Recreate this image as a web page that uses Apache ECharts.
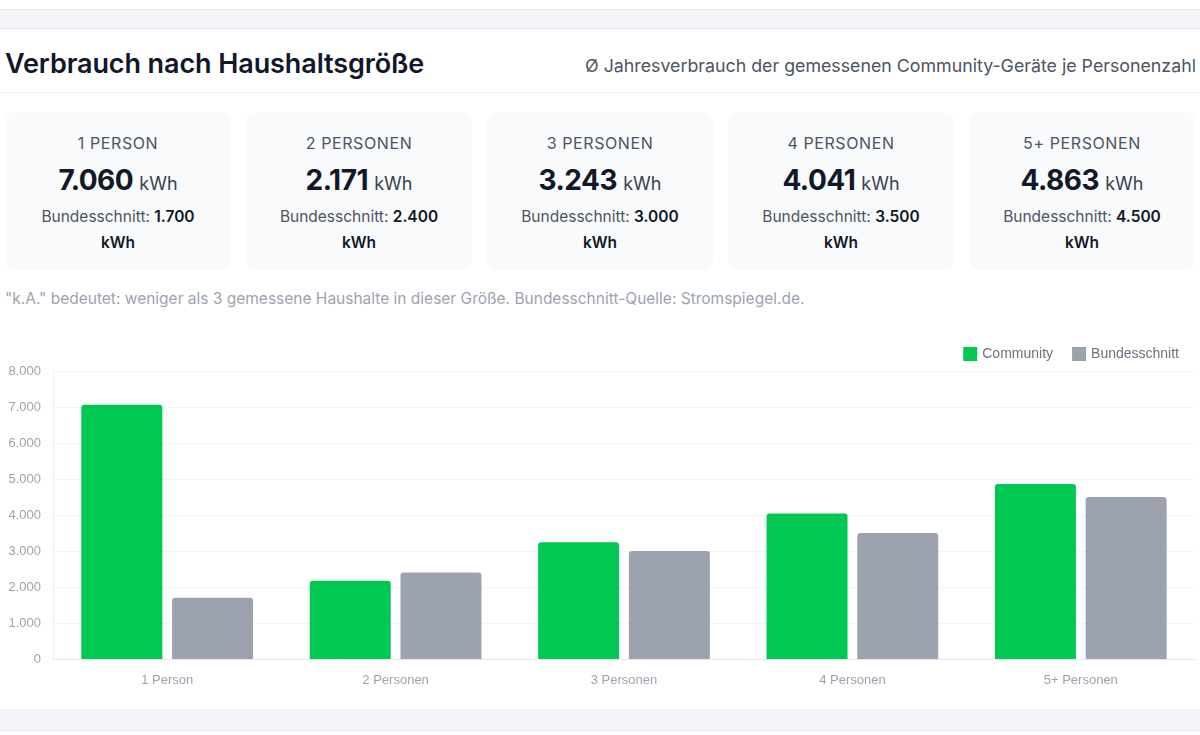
<!DOCTYPE html>
<html lang="de">
<head>
<meta charset="utf-8">
<title>Verbrauch nach Haushaltsgröße</title>
<script src="https://cdn.jsdelivr.net/npm/echarts@6/dist/echarts.min.js"></script>
<style>
  html, body { margin: 0; padding: 0; background: #fff; }
  body { width: 1200px; height: 735px; position: relative; overflow: hidden; font-family: Inter, "Noto Sans", sans-serif; }
  .band { position: absolute; left: 0; width: 1200px; background: #f3f5f8; border-top: 1px solid #e8ebef; border-bottom: 1px solid #e8ebef; }
  .head { position: absolute; left: 0; top: 29px; width: 1200px; height: 63px; border-bottom: 1px solid #eef0f3; }
  .head h1 { position: absolute; left: 5px; top: 18px; margin: 0; font-size: 27px; font-weight: 600; color: #111827; letter-spacing: -0.1px; }
  .head .sub { position: absolute; right: 4px; top: 26px; font-size: 17.8px; color: #4b5563; }
  .cards { position: absolute; left: 5px; top: 112px; display: flex; gap: 15px; }
  .card { width: 226px; height: 158px; background: #f9fafb; border-radius: 10px; text-align: center; box-sizing: border-box; padding-top: 20px; }
  .card .lab { font-size: 16px; color: #4b5563; letter-spacing: 0.6px; line-height: 22px; }
  .card .val { margin-top: 10px; font-size: 28px; font-weight: 700; color: #111827; line-height: 32px; letter-spacing: -0.5px; }
  .card .val span { font-size: 18px; font-weight: 400; color: #374151; letter-spacing: 0; }
  .card .avg { margin: 4px auto 0; width: 176px; font-size: 15.5px; color: #4b5563; line-height: 26px; }
  .card .avg b { color: #111827; font-weight: 600; }
  .note { position: absolute; left: 5px; top: 289px; font-size: 15.5px; color: #9ca3af; }
  #chart { position: absolute; left: 0; top: 330px; width: 1200px; height: 380px; }
</style>
</head>
<body>
<div class="band" style="top:9px;height:18px;"></div>
<div class="head">
  <h1>Verbrauch nach Haushaltsgröße</h1>
  <div class="sub">Ø Jahresverbrauch der gemessenen Community-Geräte je Personenzahl</div>
</div>
<div class="cards" id="cards"></div>
<div class="note">"k.A." bedeutet: weniger als 3 gemessene Haushalte in dieser Größe. Bundesschnitt-Quelle: Stromspiegel.de.</div>
<div id="chart"></div>
<div class="band" style="top:710px;height:19px;"></div>
<script>
// Daten
const categories = ['1 Person', '2 Personen', '3 Personen', '4 Personen', '5+ Personen'];
const cardLabels = ['1 PERSON', '2 PERSONEN', '3 PERSONEN', '4 PERSONEN', '5+ PERSONEN'];
const community = [7060, 2171, 3243, 4041, 4863];
const bundesschnitt = [1700, 2400, 3000, 3500, 4500];
const yTicks = [0, 1000, 2000, 3000, 4000, 5000, 6000, 7000, 8000];

// Tausenderpunkt wie im Deutschen
function fmt(v) {
  return String(v).replace(/\B(?=(\d{3})+(?!\d))/g, '.');
}

// Karten oben
const cardsEl = document.getElementById('cards');
cardLabels.forEach((lab, i) => {
  const d = document.createElement('div');
  d.className = 'card';
  d.innerHTML = `<div class="lab">${lab}</div>
    <div class="val">${fmt(community[i])} <span>kWh</span></div>
    <div class="avg">Bundesschnitt: <b>${fmt(bundesschnitt[i])} kWh</b></div>`;
  cardsEl.appendChild(d);
});

// Balkendiagramm
const chart = echarts.init(document.getElementById('chart'));
const txt = '"Liberation Sans", Arial, sans-serif';
chart.setOption({
  animation: false,
  textStyle: { fontFamily: txt },
  legend: {
    right: 16,
    top: 12,
    itemWidth: 14,
    itemHeight: 14,
    itemGap: 19,
    icon: 'rect',
    textStyle: { fontSize: 14, color: '#6b7280', fontFamily: txt },
    data: ['Community', 'Bundesschnitt']
  },
  grid: { left: 53, right: 5, top: 41, bottom: 51, containLabel: false },
  xAxis: {
    type: 'category',
    data: categories,
    axisLine: { lineStyle: { color: '#e5e7eb' } },
    axisTick: { show: false },
    axisLabel: { color: '#9ca3af', fontSize: 13, margin: 15, fontFamily: txt }
  },
  yAxis: {
    type: 'value',
    min: yTicks[0],
    max: yTicks[yTicks.length - 1],
    interval: yTicks[1] - yTicks[0],
    axisLine: { show: true, lineStyle: { color: '#eceef1' } },
    axisTick: { show: false },
    splitLine: { lineStyle: { color: '#f3f4f6' } },
    axisLabel: { color: '#9ca3af', fontSize: 13, margin: 12, fontFamily: txt, formatter: v => fmt(v) }
  },
  series: [
    {
      name: 'Community',
      type: 'bar',
      data: community,
      barWidth: 81,
      barGap: '12%',
      itemStyle: { color: '#00c853', borderRadius: [3, 3, 0, 0] }
    },
    {
      name: 'Bundesschnitt',
      type: 'bar',
      data: bundesschnitt,
      barWidth: 81,
      itemStyle: { color: '#9ca3af', borderRadius: [3, 3, 0, 0] }
    }
  ]
});
</script>
</body>
</html>
